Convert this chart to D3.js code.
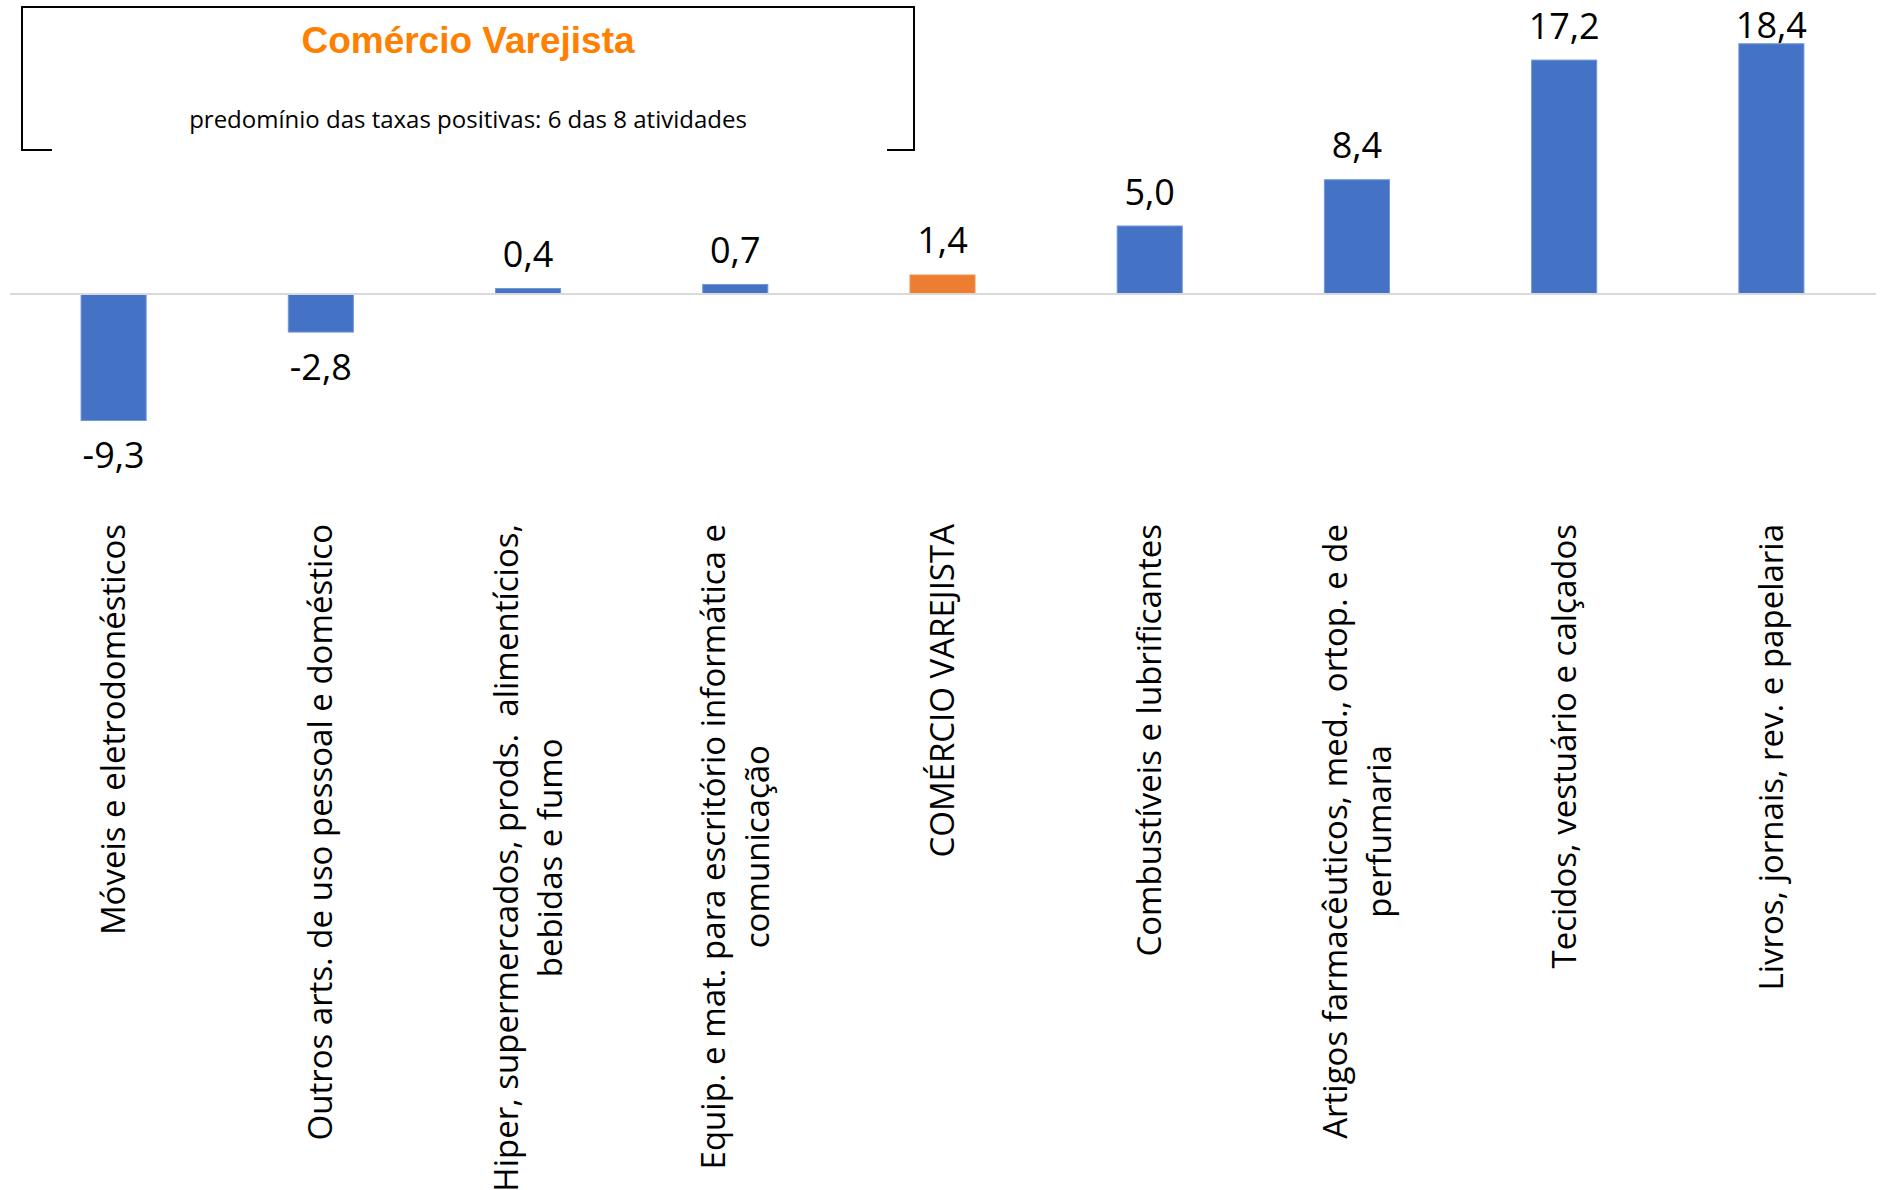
<!DOCTYPE html>
<html>
<head>
<meta charset="utf-8">
<script src="https://cdn.jsdelivr.net/npm/d3@7"></script>
<style>
  html, body { margin: 0; padding: 0; background: #ffffff; }
  svg { display: block; }
</style>
</head>
<body>
<svg id="chart" width="1881" height="1190"></svg>
<script>
// ---- data ----
const categories = [
  ["Móveis e eletrodomésticos"],
  ["Outros arts. de uso pessoal e doméstico"],
  ["Hiper, supermercados, prods.\u00a0 alimentícios,", "bebidas e fumo"],
  ["Equip. e mat. para escritório informática e", "comunicação"],
  ["COMÉRCIO VAREJISTA"],
  ["Combustíveis e lubrificantes"],
  ["Artigos farmacêuticos, med., ortop. e de", "perfumaria"],
  ["Tecidos, vestuário e calçados"],
  ["Livros, jornais, rev. e papelaria"]
];
const values = [-9.3, -2.8, 0.4, 0.7, 1.4, 5.0, 8.4, 17.2, 18.4];
const highlight = ["COMÉRCIO VAREJISTA"];
const titleText = "Comércio Varejista";
const subtitleText = "predomínio das taxas positivas: 6 das 8 atividades";

// ---- layout ----
const svg = d3.select("#chart");
svg.append("rect").attr("width", 1881).attr("height", 1190).attr("fill", "#ffffff");

const keys = categories.map(c => c.join(" "));
const x = d3.scaleBand().domain(keys).range([10, 1875]).paddingInner(0.686).paddingOuter(0.343);
const y = d3.scaleLinear().domain([-10, 20]).range([430, 22]);

const BLUE = "#4472C4", ORANGE = "#ED7D31";
const data = keys.map((k, i) => ({ key: k, lines: categories[i], value: values[i] }));

// bars
svg.append("g").selectAll("rect").data(data).join("rect")
  .attr("x", d => x(d.key))
  .attr("width", x.bandwidth())
  .attr("y", d => y(Math.max(0, d.value)))
  .attr("height", d => Math.abs(y(d.value) - y(0)))
  .attr("fill", d => highlight.includes(d.key) ? ORANGE : BLUE)
  .attr("stroke", d => highlight.includes(d.key) ? "#F09A5E" : "#7096D8")
  .attr("stroke-width", 1);

// zero line
svg.append("line")
  .attr("x1", 10).attr("x2", 1876)
  .attr("y1", y(0)).attr("y2", y(0))
  .attr("stroke", "#D9D9D9").attr("stroke-width", 2);

// value labels
const fmt = v => d3.format(".1f")(v).replace(".", ",").replace("−", "-");
svg.append("g").selectAll("text").data(data).join("text")
  .attr("x", d => x(d.key) + x.bandwidth() / 2)
  .attr("y", d => d.value >= 0 ? Math.max(y(d.value) - 21.5, 38) : y(d.value) + 48)
  .attr("text-anchor", "middle")
  .attr("font-family", "'Open Sans', sans-serif")
  .attr("font-size", 36)
  .attr("fill", "#000")
  .text(d => fmt(d.value));

// category labels (rotated)
const labelTop = 524, lineGap = 44;
const lg = svg.append("g").selectAll("g").data(data).join("g")
  .attr("transform", d => `translate(${x(d.key) + x.bandwidth() / 2},${labelTop}) rotate(-90)`);
lg.each(function(d) {
  const g = d3.select(this);
  const n = d.lines.length;
  const texts = d.lines.map((ln, i) => g.append("text")
    .attr("font-family", "'Open Sans', sans-serif")
    .attr("font-size", 33)
    .attr("fill", "#000")
    .attr("text-anchor", "middle")
    .attr("y", (i - (n - 1) / 2) * lineGap)
    .attr("dy", "0.35em")
    .text(ln));
  const maxLen = d3.max(texts, t => t.node().getComputedTextLength());
  texts.forEach(t => t.attr("x", -maxLen / 2));
});

// title box
svg.append("path")
  .attr("d", "M52,150 H22 V7 H914 V150 H887")
  .attr("fill", "none").attr("stroke", "#000").attr("stroke-width", 2);

svg.append("text")
  .attr("x", 468).attr("y", 53)
  .attr("text-anchor", "middle")
  .attr("font-family", "'Liberation Sans', Arial, sans-serif")
  .attr("font-weight", "bold")
  .attr("font-size", 37)
  .attr("fill", "#FF7F00")
  .text(titleText);

svg.append("text")
  .attr("x", 468).attr("y", 128)
  .attr("text-anchor", "middle")
  .attr("font-family", "'Open Sans', sans-serif")
  .attr("font-size", 24)
  .attr("fill", "#000")
  .text(subtitleText);
</script>
</body>
</html>
